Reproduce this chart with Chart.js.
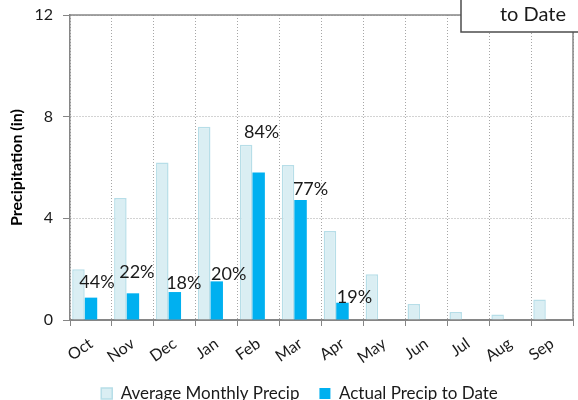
<!DOCTYPE html>
<html>
<head>
<meta charset="utf-8">
<script src="https://cdn.jsdelivr.net/npm/chart.js@4/dist/chart.umd.min.js"></script>
<style>
  html, body { margin: 0; padding: 0; background: #fff; }
  #wrap { width: 578px; height: 400px; }
</style>
</head>
<body>
<div id="wrap"><canvas id="precipChart"></canvas></div>
<script>
var months = ['Oct', 'Nov', 'Dec', 'Jan', 'Feb', 'Mar', 'Apr', 'May', 'Jun', 'Jul', 'Aug', 'Sep'];
var avgPrecip = [2.0, 4.8, 6.2, 7.6, 6.9, 6.1, 3.5, 1.8, 0.63, 0.31, 0.22, 0.81];
var actualPrecip = [0.88, 1.05, 1.1, 1.52, 5.8, 4.72, 0.68, null, null, null, null, null];
var pctLabels = ['44%', '22%', '18%', '20%', '84%', '77%', '19%', null, null, null, null, null];
var yTicks = [0, 4, 8, 12];

// nudge of each percent label from the top of its actual bar (px)
var labelNudge = [[6, -15], [4, -21], [9, -9], [12, -7], [3, -40], [10, -11], [12, -6]];

var fontName = 'Lato, "Open Sans", sans-serif';

var pctLabelPlugin = {
    id: 'pctLabels',
    afterDatasetsDraw: function(chart) {
        var ctx = chart.ctx;
        var meta = chart.getDatasetMeta(1);
        ctx.save();
        ctx.font = '18px ' + fontName;
        ctx.fillStyle = '#1a1a1a';
        ctx.textAlign = 'center';
        ctx.textBaseline = 'middle';
        pctLabels.forEach(function(txt, i) {
            if (!txt) return;
            var bar = meta.data[i];
            var n = labelNudge[i] || [0, -10];
            ctx.fillText(txt, bar.x + n[0], bar.y + n[1]);
        });
        ctx.restore();
    }
};

var frameAndTitlePlugin = {
    id: 'frameAndTitle',
    afterLayout: function(chart) {
        // legend sits a bit right of centre in the original
        if (chart.legend) {
            chart.legend.left += 13;
            chart.legend.right += 13;
        }
    },
    afterDraw: function(chart) {
        var ctx = chart.ctx;
        var a = chart.chartArea;
        ctx.save();
        // plot area frame
        ctx.strokeStyle = '#868686';
        ctx.lineWidth = 1.5;
        ctx.beginPath();
        ctx.moveTo(a.left, a.top);
        ctx.lineTo(a.right, a.top);
        ctx.lineTo(a.right, a.bottom);
        ctx.stroke();
        // title box, mostly off canvas
        ctx.fillStyle = '#fff';
        ctx.fillRect(461, -5, 130, 37);
        ctx.strokeStyle = '#4d4d4d';
        ctx.lineWidth = 1.5;
        ctx.strokeRect(461, -5, 130, 37);
        ctx.fillStyle = '#1a1a1a';
        ctx.font = '20px ' + fontName;
        ctx.textAlign = 'left';
        ctx.textBaseline = 'middle';
        ctx.fillText('to Date', 500, 15);
        ctx.restore();
    }
};

var chart = new Chart(document.getElementById('precipChart'), {
    type: 'bar',
    data: {
        labels: months,
        datasets: [{
            label: 'Average Monthly Precip',
            data: avgPrecip,
            backgroundColor: '#DAEEF3',
            borderColor: '#B7DEE8',
            borderWidth: 1.5
        }, {
            label: 'Actual Precip to Date',
            data: actualPrecip,
            backgroundColor: '#00B0F0',
            borderColor: '#00B0F0',
            borderWidth: 0
        }, {
            label: 'pct',
            data: months.map(function() { return null; }),
            backgroundColor: 'rgba(0,0,0,0)'
        }]
    },
    options: {
        responsive: true,
        maintainAspectRatio: false,
        animation: false,
        layout: { padding: { top: 15, right: 5, left: 0, bottom: -12 } },
        datasets: { bar: { categoryPercentage: 0.895, barPercentage: 1 } },
        plugins: {
            tooltip: { enabled: false },
            title: { display: false },
            legend: {
                position: 'bottom',
                labels: {
                    filter: function(item) { return item.datasetIndex < 2; },
                    font: { family: fontName, size: 17 },
                    color: '#1a1a1a',
                    boxWidth: 11,
                    boxHeight: 11,
                    padding: 20
                }
            }
        },
        scales: {
            x: {
                grid: {
                    offset: true,
                    color: '#a6a6a6',
                    tickColor: '#868686',
                    tickLength: 6
                },
                border: { color: '#868686', width: 2, dash: [1, 2] },
                ticks: {
                    font: { family: fontName, size: 16 },
                    color: '#1a1a1a',
                    maxRotation: 35,
                    minRotation: 35,
                    padding: 8
                },
                afterFit: function(scale) { scale.height = 45; }
            },
            y: {
                min: 0,
                max: 12,
                afterBuildTicks: function(scale) {
                    scale.ticks = yTicks.map(function(v) { return { value: v }; });
                },
                grid: {
                    color: '#a6a6a6',
                    tickColor: '#868686',
                    tickLength: 7
                },
                border: { color: '#868686', width: 1.5, dash: [1, 2] },
                ticks: {
                    font: { family: fontName, size: 16 },
                    color: '#1a1a1a',
                    padding: 10
                },
                title: {
                    display: true,
                    text: 'Precipitation (in)',
                    font: { family: fontName, size: 16, weight: 'bold' },
                    color: '#000',
                    padding: { top: 7, bottom: 0 }
                },
                afterFit: function(scale) {
                    scale.width = 70;
                    scale.paddingTop = 0;
                }
            }
        }
    },
    plugins: [pctLabelPlugin, frameAndTitlePlugin]
});
</script>
</body>
</html>
